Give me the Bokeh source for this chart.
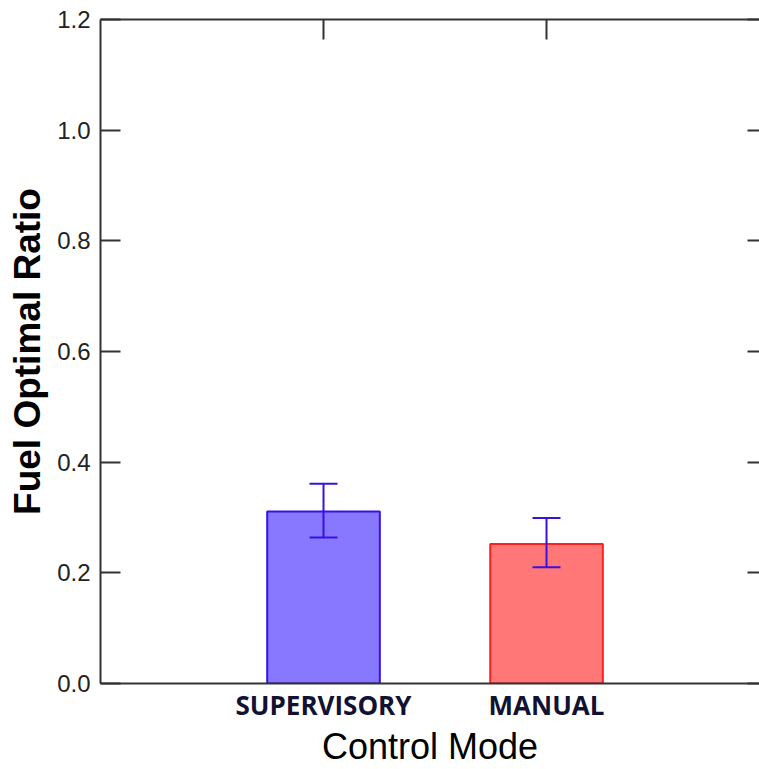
from bokeh.plotting import figure
from bokeh.models import (Range1d, LinearAxis, FixedTicker, PrintfTickFormatter,
                          ColumnDataSource, Whisker, TeeHead)
from bokeh.embed import file_html
from bokeh.resources import INLINE

# ---- data ----
categories = ["SUPERVISORY", "MANUAL"]
positions = [1, 2]
means = [0.311, 0.252]
err_upper = [0.361, 0.299]
err_lower = [0.264, 0.210]
fill_colors = ["#8878ff", "#ff7777"]
line_colors = ["#3311ee", "#ff2020"]
y_ticks = [0.0, 0.2, 0.4, 0.6, 0.8, 1.0, 1.2]

src = ColumnDataSource(dict(x=positions, top=means, upper=err_upper, lower=err_lower,
                            fill=fill_colors, line=line_colors))

p = figure(width=759, height=769, output_backend="svg", toolbar_location=None,
           x_range=Range1d(0.0, 2.955), y_range=Range1d(0, 1.2),
           min_border_left=100, min_border_right=0, min_border_top=19, min_border_bottom=85,
           x_axis_location="below", y_axis_location="left")
p.outline_line_color = None
p.grid.visible = False
p.background_fill_color = "white"
p.border_fill_color = "white"

p.vbar(x="x", top="top", width=0.505, bottom=0, source=src,
       fill_color="fill", line_color="line", line_width=2)

w = Whisker(base="x", upper="upper", lower="lower", source=src, level="overlay",
            line_color="#3a10e0", line_width=2,
            upper_head=TeeHead(size=28, line_color="#3a10e0", line_width=2),
            lower_head=TeeHead(size=28, line_color="#3a10e0", line_width=2))
p.add_layout(w)

axis_color = "#333333"

# left axis
ya = p.yaxis[0]
ya.ticker = FixedTicker(ticks=y_ticks)
ya.formatter = PrintfTickFormatter(format="%.1f")
ya.major_tick_in = 20
ya.major_tick_out = 0
ya.minor_tick_line_color = None
ya.axis_line_color = axis_color
ya.axis_line_width = 2
ya.major_tick_line_color = axis_color
ya.major_tick_line_width = 2
ya.major_label_text_font = "Liberation Sans"
ya.major_label_text_font_size = "24px"
ya.major_label_text_color = "#222222"
ya.major_label_standoff = 10
ya.axis_label = "Fuel Optimal Ratio"
ya.axis_label_text_font = "Liberation Sans"
ya.axis_label_text_font_style = "bold"
ya.axis_label_text_font_size = "37px"
ya.axis_label_text_color = "#000000"
ya.axis_label_standoff = 6

# bottom axis
xa = p.xaxis[0]
xa.ticker = FixedTicker(ticks=positions)
xa.major_label_overrides = {pos: cat for pos, cat in zip(positions, categories)}
xa.major_tick_in = 0
xa.major_tick_out = 0
xa.minor_tick_line_color = None
xa.axis_line_color = axis_color
xa.axis_line_width = 2
xa.major_label_text_font = "Open Sans"
xa.major_label_text_font_style = "bold"
xa.major_label_text_font_size = "26px"
xa.major_label_text_color = "#111133"
xa.major_label_standoff = 3
xa.axis_label = "Control Mode"
xa.axis_label_text_font = "Liberation Sans"
xa.axis_label_text_font_style = "normal"
xa.axis_label_text_font_size = "36px"
xa.axis_label_text_color = "#000000"
xa.axis_label_standoff = 0

# top axis (ticks only)
ta = LinearAxis(ticker=FixedTicker(ticks=positions))
ta.major_label_overrides = {pos: "" for pos in positions}
ta.major_tick_in = 20
ta.major_tick_out = 0
ta.minor_tick_line_color = None
ta.axis_line_color = axis_color
ta.axis_line_width = 2
ta.major_tick_line_color = axis_color
ta.major_tick_line_width = 2
ta.major_label_standoff = 0
p.add_layout(ta, "above")

# right axis (ticks only, no line)
ra = LinearAxis(ticker=FixedTicker(ticks=y_ticks))
ra.major_label_overrides = {t: "" for t in y_ticks}
ra.major_tick_in = 12
ra.major_tick_out = 0
ra.minor_tick_line_color = None
ra.axis_line_color = None
ra.major_tick_line_color = axis_color
ra.major_tick_line_width = 2
ra.major_label_standoff = 0
p.add_layout(ra, "right")

open("out.html", "w").write(file_html(p, INLINE))
